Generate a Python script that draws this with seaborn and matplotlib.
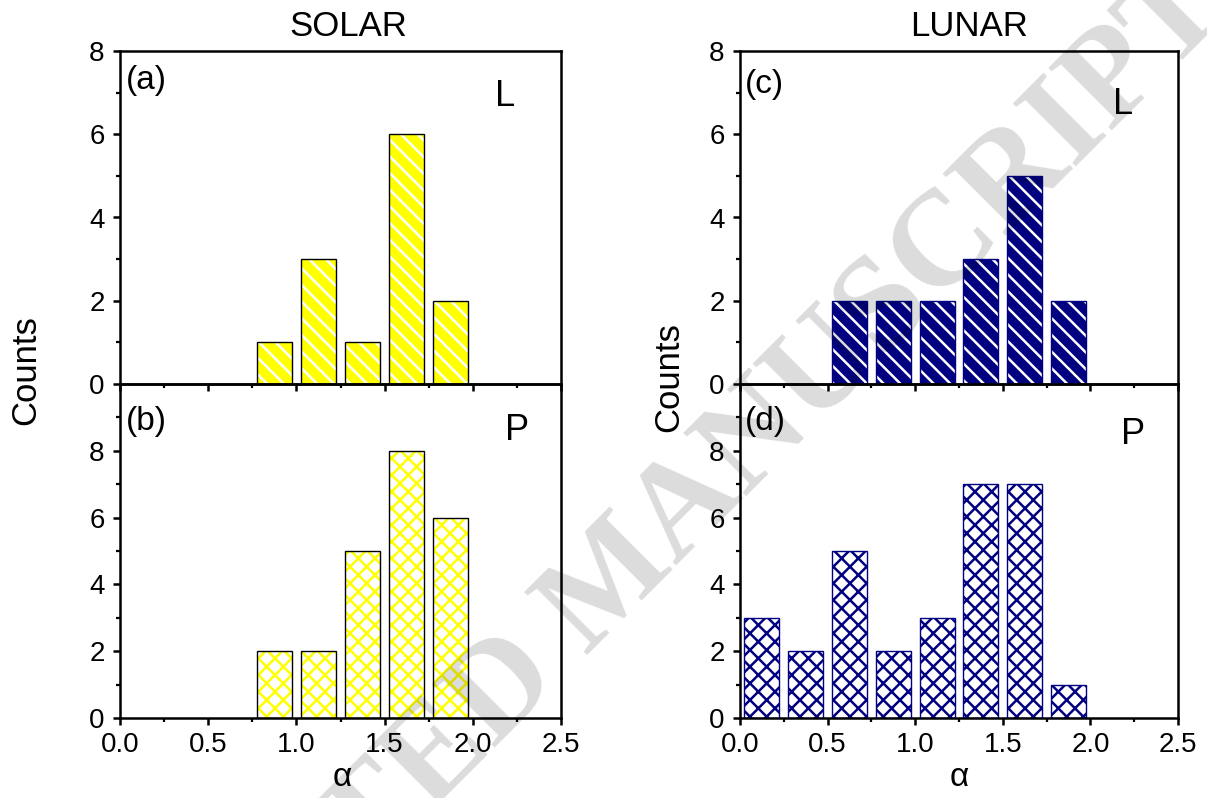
import numpy as np
import pandas as pd
import matplotlib
matplotlib.use("Agg")
import matplotlib.pyplot as plt
import seaborn as sns
from matplotlib.ticker import MultipleLocator, FixedLocator

# ---- data (bin centres of alpha and counts) ----
alpha_solar_L = [0.875, 1.125, 1.375, 1.625, 1.875]
counts_solar_L = [1, 3, 1, 6, 2]
alpha_solar_P = [0.875, 1.125, 1.375, 1.625, 1.875]
counts_solar_P = [2, 2, 5, 8, 6]
alpha_lunar_L = [0.625, 0.875, 1.125, 1.375, 1.625, 1.875]
counts_lunar_L = [2, 2, 2, 3, 5, 2]
alpha_lunar_P = [0.125, 0.375, 0.625, 0.875, 1.125, 1.375, 1.625, 1.875]
counts_lunar_P = [3, 2, 5, 2, 3, 7, 7, 1]

x_ticks = [0.0, 0.5, 1.0, 1.5, 2.0, 2.5]
x_ticklabels = ["0.0", "0.5", "1.0", "1.5", "2.0", "2.5"]

sns.set_theme(style="ticks")
plt.rcParams["font.family"] = ["Liberation Sans", "DejaVu Sans"]
plt.rcParams["hatch.linewidth"] = 1.8
for k in ["text.color", "axes.labelcolor", "xtick.color", "ytick.color",
          "xtick.labelcolor", "ytick.labelcolor"]:
    plt.rcParams[k] = "black"

W, H = 1207, 798
fig = plt.figure(figsize=(W / 100, H / 100), dpi=100)


def add_ax(x0, x1, y0, y1):
    ax = fig.add_axes([x0 / W, 1 - y1 / H, (x1 - x0) / W, (y1 - y0) / H])
    ax.set_facecolor("none")
    return ax


def draw(ax, xs, ys, face, hatch, hatch_color, edge):
    df = pd.DataFrame({"alpha": xs, "count": ys})
    n0 = len(ax.patches)
    sns.barplot(data=df, x="alpha", y="count", native_scale=True, color=face,
                saturation=1, errorbar=None, ax=ax)
    for p in ax.patches[n0:]:
        p.set_hatch(hatch)
        p.set_edgecolor(hatch_color)
        p.set_linewidth(0)
        p.set_zorder(2)
    n1 = len(ax.patches)
    sns.barplot(data=df, x="alpha", y="count", native_scale=True, color=edge,
                saturation=1, errorbar=None, ax=ax)
    for p in ax.patches[n1:]:
        p.set_facecolor("none")
        p.set_edgecolor(edge)
        p.set_linewidth(1.0)
        p.set_zorder(3)


def style(ax, top):
    ax.set_xlim(0, 2.5)
    ax.set_xticks(x_ticks)
    ax.xaxis.set_minor_locator(MultipleLocator(0.25))
    if top:
        ax.set_ylim(0, 8)
        ax.yaxis.set_major_locator(FixedLocator([0, 2, 4, 6, 8]))
        ax.yaxis.set_minor_locator(FixedLocator([1, 3, 5, 7]))
        ax.tick_params(axis="x", labelbottom=False)
    else:
        ax.set_ylim(0, 10)
        ax.yaxis.set_major_locator(FixedLocator([0, 2, 4, 6, 8]))
        ax.yaxis.set_minor_locator(FixedLocator([1, 3, 5, 7, 9]))
        ax.set_xticklabels(x_ticklabels)
    ax.tick_params(which="major", direction="out", length=5, width=1.8,
                   labelsize=20, pad=5, color="black", labelcolor="black")
    ax.tick_params(axis="y", which="major", pad=6)
    ax.tick_params(which="minor", direction="out", length=3, width=1.6,
                   color="black")
    for s in ax.spines.values():
        s.set_visible(True)
        s.set_linewidth(1.8)
        s.set_color("black")
    ax.set_xlabel("")
    ax.set_ylabel("")


yellow = "#FFFF00"
navy = "#000080"

ax_a = add_ax(120, 561, 51, 384)
ax_b = add_ax(120, 561, 384, 718)
ax_c = add_ax(740, 1178, 51, 384)
ax_d = add_ax(740, 1178, 384, 718)

draw(ax_a, alpha_solar_L, counts_solar_L, yellow, "\\\\", "white", "black")
draw(ax_b, alpha_solar_P, counts_solar_P, "white", "xx", yellow, "black")
draw(ax_c, alpha_lunar_L, counts_lunar_L, navy, "\\\\", "white", navy)
draw(ax_d, alpha_lunar_P, counts_lunar_P, "white", "xx", navy, navy)

style(ax_a, True)
style(ax_b, False)
style(ax_c, True)
style(ax_d, False)


def ftxt(x, y, s, **kw):
    fig.text(x / W, 1 - y / H, s, **kw)


ftxt(348, 27, "SOLAR", fontsize=25, ha="center", va="center")
ftxt(969, 27, "LUNAR", fontsize=25, ha="center", va="center")
ftxt(26, 370, "Counts", fontsize=25, rotation=90, ha="center", va="center")
ftxt(669, 377, "Counts", fontsize=25, rotation=90, ha="center", va="center")
ftxt(342, 778, "α", fontsize=24, ha="center", va="center")
ftxt(959, 778, "α", fontsize=24, ha="center", va="center")

ftxt(126, 81, "(a)", fontsize=24, ha="left", va="center")
ftxt(126, 421, "(b)", fontsize=24, ha="left", va="center")
ftxt(745, 84, "(c)", fontsize=24, ha="left", va="center")
ftxt(745, 421, "(d)", fontsize=24, ha="left", va="center")
ftxt(505, 96, "L", fontsize=26, ha="center", va="center")
ftxt(517, 431, "P", fontsize=26, ha="center", va="center")
ftxt(1123, 104, "L", fontsize=26, ha="center", va="center")
ftxt(1133, 435, "P", fontsize=26, ha="center", va="center")

# faint watermark
fig.text(612 / W, 1 - 584 / H, "ACCEPTED MANUSCRIPT", fontsize=97,
         family="Liberation Serif", fontweight="bold", color="black",
         alpha=0.14, rotation=45, rotation_mode="anchor", ha="center",
         va="center", zorder=10)

fig.savefig("out.png", dpi=100)
